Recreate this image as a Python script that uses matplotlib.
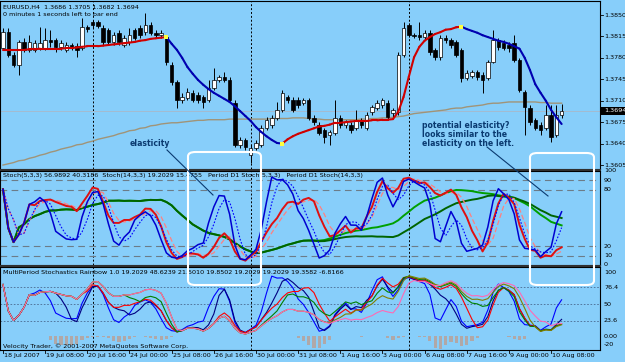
import numpy as np
import pandas as pd
import matplotlib
matplotlib.use('Agg')
import matplotlib.pyplot as plt
from matplotlib.patches import FancyBboxPatch, Rectangle
from matplotlib.lines import Line2D

# ---------------- data ----------------
opens = [1.3796,1.3822,1.3785,1.3768,1.3806,1.3793,1.3793,1.3796,1.3796,1.3809,
         1.3809,1.3798,1.3793,1.3801,1.3799,1.3796,1.3830,1.3839,1.3839,1.3829,
         1.3826,1.3806,1.3821,1.3801,1.3806,1.3826,1.3829,1.3822,1.3834,1.3821,
         1.3817,1.3814,1.3768,1.3741,1.3711,1.3714,1.3723,1.3719,1.3716,1.3711,
         1.3731,1.3744,1.3749,1.3744,1.3706,1.3638,1.3646,1.3621,1.3633,1.3638,
         1.3665,1.3670,1.3682,1.3695,1.3716,1.3711,1.3711,1.3706,1.3711,1.3682,
         1.3670,1.3662,1.3654,1.3657,1.3682,1.3670,1.3670,1.3665,1.3679,1.3665,
         1.3692,1.3698,1.3703,1.3706,1.3690,1.3692,1.3785,1.3834,1.3817,1.3817,
         1.3814,1.3821,1.3793,1.3781,1.3812,1.3809,1.3806,1.3793,1.3747,1.3750,
         1.3757,1.3752,1.3747,1.3773,1.3809,1.3804,1.3801,1.3804,1.3777,1.3724,
         1.3698,1.3679,1.3670,1.3665,1.3687,1.3654,1.3686]
highs = [1.3829,1.3829,1.3790,1.3809,1.3812,1.3817,1.3809,1.3830,1.3829,1.3826,
         1.3812,1.3809,1.3806,1.3804,1.3804,1.3845,1.3834,1.3842,1.3842,1.3834,
         1.3829,1.3822,1.3826,1.3817,1.3829,1.3829,1.3834,1.3853,1.3839,1.3826,
         1.3826,1.3817,1.3773,1.3744,1.3723,1.3731,1.3728,1.3724,1.3719,1.3744,
         1.3763,1.3752,1.3757,1.3749,1.3711,1.3651,1.3649,1.3638,1.3646,1.3670,
         1.3683,1.3687,1.3708,1.3728,1.3719,1.3716,1.3716,1.3714,1.3714,1.3687,
         1.3675,1.3665,1.3662,1.3711,1.3687,1.3679,1.3675,1.3695,1.3682,1.3692,
         1.3703,1.3711,1.3714,1.3711,1.3698,1.3790,1.3839,1.3837,1.3821,1.3839,
         1.3826,1.3826,1.3796,1.3817,1.3817,1.3812,1.3809,1.3796,1.3760,1.3760,
         1.3760,1.3757,1.3777,1.3826,1.3812,1.3809,1.3806,1.3817,1.3780,1.3728,
         1.3703,1.3682,1.3675,1.3703,1.3703,1.3703,1.3705]
lows = [1.3793,1.3781,1.3765,1.3752,1.3790,1.3790,1.3790,1.3793,1.3793,1.3798,
        1.3790,1.3793,1.3790,1.3793,1.3781,1.3793,1.3822,1.3829,1.3829,1.3801,
        1.3801,1.3801,1.3801,1.3798,1.3801,1.3809,1.3812,1.3817,1.3817,1.3812,
        1.3812,1.3768,1.3736,1.3698,1.3706,1.3711,1.3708,1.3706,1.3698,1.3708,
        1.3728,1.3741,1.3741,1.3708,1.3634,1.3633,1.3630,1.3608,1.3630,1.3634,
        1.3662,1.3665,1.3679,1.3692,1.3706,1.3692,1.3698,1.3703,1.3679,1.3670,
        1.3654,1.3641,1.3638,1.3654,1.3665,1.3665,1.3657,1.3662,1.3665,1.3662,
        1.3687,1.3695,1.3698,1.3679,1.3683,1.3687,1.3781,1.3814,1.3812,1.3809,
        1.3809,1.3785,1.3777,1.3777,1.3804,1.3796,1.3781,1.3741,1.3744,1.3747,
        1.3744,1.3723,1.3744,1.3772,1.3793,1.3793,1.3790,1.3773,1.3724,1.3654,
        1.3670,1.3662,1.3654,1.3662,1.3643,1.3651,1.3682]
closes = [1.3822,1.3785,1.3768,1.3806,1.3793,1.3806,1.3804,1.3804,1.3809,1.3806,
          1.3798,1.3804,1.3801,1.3796,1.3793,1.3830,1.3827,1.3834,1.3832,1.3806,
          1.3806,1.3817,1.3806,1.3812,1.3817,1.3812,1.3817,1.3834,1.3821,1.3817,
          1.3821,1.3773,1.3741,1.3711,1.3716,1.3724,1.3711,1.3711,1.3708,1.3731,
          1.3744,1.3749,1.3744,1.3711,1.3638,1.3646,1.3634,1.3633,1.3641,1.3665,
          1.3679,1.3682,1.3695,1.3723,1.3711,1.3695,1.3703,1.3711,1.3682,1.3675,
          1.3657,1.3651,1.3659,1.3682,1.3670,1.3675,1.3662,1.3679,1.3670,1.3687,
          1.3700,1.3706,1.3711,1.3683,1.3695,1.3785,1.3829,1.3817,1.3816,1.3814,
          1.3821,1.3790,1.3781,1.3812,1.3809,1.3801,1.3785,1.3747,1.3755,1.3757,
          1.3749,1.3744,1.3773,1.3809,1.3798,1.3796,1.3796,1.3777,1.3728,1.3700,
          1.3675,1.3665,1.3662,1.3687,1.3651,1.3687,1.3694]

trend_ma = [1.3793,1.3793,1.3793,1.3793,1.3793,1.3794,1.3794,1.3795,1.3795,1.3795,
            1.3795,1.3795,1.3796,1.3796,1.3797,1.3798,1.3799,1.3799,1.3799,1.3800,
            1.3801,1.3802,1.3803,1.3804,1.3805,1.3806,1.3808,1.3809,1.3811,1.3812,
            1.3813,1.3814,1.3803,1.3793,1.3780,1.3765,1.3754,1.3744,1.3736,1.3729,
            1.3723,1.3718,1.3713,1.3708,1.3701,1.3693,1.3685,1.3677,1.3667,1.3659,
            1.3652,1.3646,1.3641,1.3640,1.3647,1.3652,1.3656,1.3659,1.3662,1.3665,
            1.3668,1.3669,1.3671,1.3674,1.3674,1.3675,1.3676,1.3677,1.3677,1.3677,
            1.3678,1.3678,1.3679,1.3679,1.3680,1.3692,1.3716,1.3749,1.3781,1.3798,
            1.3808,1.3814,1.3819,1.3822,1.3826,1.3827,1.3830,1.3831,1.3827,1.3824,
            1.3821,1.3817,1.3814,1.3811,1.3808,1.3806,1.3803,1.3799,1.3795,1.3780,
            1.3760,1.3737,1.3723,1.3710,1.3695,1.3683,1.3672]

sma_long = [1.3605,1.3607,1.3609,1.3612,1.3613,1.3616,1.3618,1.3621,1.3623,1.3626,
            1.3628,1.3631,1.3633,1.3635,1.3638,1.3639,1.3642,1.3644,1.3647,1.3649,
            1.3651,1.3653,1.3656,1.3658,1.3661,1.3662,1.3665,1.3666,1.3669,1.3670,
            1.3672,1.3673,1.3674,1.3674,1.3675,1.3676,1.3677,1.3678,1.3678,1.3679,
            1.3679,1.3679,1.3679,1.3680,1.3680,1.3680,1.3680,1.3680,1.3680,1.3680,
            1.3680,1.3681,1.3681,1.3681,1.3681,1.3682,1.3682,1.3682,1.3681,1.3680,
            1.3680,1.3679,1.3679,1.3679,1.3679,1.3679,1.3679,1.3679,1.3680,1.3680,
            1.3681,1.3681,1.3682,1.3682,1.3683,1.3684,1.3685,1.3687,1.3689,1.3690,
            1.3691,1.3692,1.3693,1.3694,1.3695,1.3697,1.3698,1.3698,1.3700,1.3701,
            1.3702,1.3703,1.3705,1.3706,1.3706,1.3707,1.3708,1.3708,1.3708,1.3708,
            1.3708,1.3708,1.3707,1.3707,1.3706,1.3706,1.3706]

price_ticks = [1.3605, 1.3640, 1.3675, 1.3710, 1.3745, 1.3780, 1.3815, 1.3850]
current_price = 1.3694
time_labels = ["18 Jul 2007", "19 Jul 08:00", "20 Jul 16:00", "24 Jul 00:00",
               "25 Jul 08:00", "26 Jul 16:00", "30 Jul 00:00", "31 Jul 08:00",
               "1 Aug 16:00", "3 Aug 00:00", "6 Aug 08:00", "7 Aug 16:00",
               "9 Aug 00:00", "10 Aug 08:00"]
label_every = 8
week_starts = [17, 47, 77]
stoch_levels = [90, 80, 20, 10]
stoch_ticks = [100, 90, 80, 20, 10, 0]
multi_levels = [76.4, 50, 23.6]
multi_ticks = [(100, "100"), (76.4, "76.4"), (50, "50"), (23.6, "23.6"), (0, "0.00"), (-20, "-20")]
multi_periods = [5, 8, 13, 21, 34, 55]
multi_colors = ['#0000ff', '#000080', '#ff0000', '#008000', '#808000', '#ff69b4']

# ---------------- helpers ----------------
W, H = 625, 362
BG = '#87CEFA'
FONT = 'DejaVu Sans'
FS = 4.6
fig = plt.figure(figsize=(W/100, H/100), dpi=100, facecolor=BG)

n = len(closes)
x = np.arange(n)
BAR = 5.27
XL = (-3/BAR, -3/BAR + 600/BAR)

def fx(px):
    return px / W

def fy(py):
    return 1 - py / H

def add_panel(top, bottom):
    ax = fig.add_axes([0, 1 - bottom/H, 600/W, (bottom-top)/H])
    ax.set_facecolor(BG)
    ax.set_xlim(*XL)
    ax.set_xticks([]); ax.set_yticks([])
    for s in ax.spines.values():
        s.set_color('black'); s.set_linewidth(0.8)
    for w in week_starts:
        ax.axvline(w, color='black', lw=0.7, ls=(0, (2, 2)), zorder=1)
    return ax

o = np.array(opens); h = np.array(highs); l = np.array(lows); c = np.array(closes)

# ---------------- main price panel ----------------
ax = add_panel(1, 169)
ax.set_ylim(1.38745 - 0.0001633*169, 1.38745 - 0.0001633*1)
ax.axhline(current_price, color='#a8b8c8', lw=0.6, zorder=1)
ax.plot(x, sma_long, color='#a09478', lw=1.0, zorder=2)
for i in range(n):
    ax.vlines(i, l[i], h[i], color='black', lw=0.7, zorder=3)
    bull = c[i] >= o[i]
    lo, hi = min(o[i], c[i]), max(o[i], c[i])
    if hi - lo < 0.00006:
        hi = lo + 0.00006
    ax.add_patch(Rectangle((i - 0.33, lo), 0.66, hi - lo,
                           facecolor='white' if bull else 'black',
                           edgecolor='black', lw=0.5, zorder=4))
tm = np.array(trend_ma)
d = np.diff(tm)
prev = 'r'
for i in range(n - 1):
    col = '#d00000' if d[i] > 0 else ('#0000b0' if d[i] < 0 else ('#d00000' if prev == 'r' else '#0000b0'))
    prev = 'r' if col == '#d00000' else 'b'
    ax.plot([i, i+1], tm[i:i+2], color=col, lw=1.5, solid_capstyle='round', zorder=5)
for i in range(1, n - 1):
    if np.sign(d[i-1]) != np.sign(d[i]) and d[i] != 0 and d[i-1] != 0:
        ax.plot(i, tm[i], 's', color='#ffff40', ms=2.2, mew=0, zorder=6)

ax.text(3/600, 1 - 4/168, "EURUSD,H4  1.3686 1.3705 1.3682 1.3694", transform=ax.transAxes,
        fontsize=FS, family=FONT, va='top', ha='left', color='black')
ax.text(3/600, 1 - 11/168, "0 minutes 1 seconds left to bar end", transform=ax.transAxes,
        fontsize=FS, family=FONT, va='top', ha='left', color='black')
ax.text(130/600, 1 - 143/168, "elasticity", transform=ax.transAxes, fontsize=5.6,
        family=FONT, weight='bold', color='#0a3a70', va='center', ha='left')
for k, t in enumerate(["potential elasticity?", "looks similar to the", "elasticity on the left."]):
    ax.text(422/600, 1 - (125 + 8.5*k)/168, t, transform=ax.transAxes, fontsize=5.6,
            family=FONT, weight='bold', color='#0a3a70', va='center', ha='left')

# right price axis
for p in price_ticks:
    yp = (1.38745 - p) / 0.0001633
    fig.text(fx(604), fy(yp), f"{p:.4f}", fontsize=FS, family=FONT, va='center', ha='left')
    fig.add_artist(Line2D([fx(600), fx(603)], [fy(yp), fy(yp)], color='black', lw=0.6))
yp = (1.38745 - current_price) / 0.0001633
fig.add_artist(Rectangle((fx(601), fy(yp + 4)), fx(24), 8/H, facecolor='black', edgecolor='none'))
fig.text(fx(604), fy(yp), f"{current_price:.4f}", fontsize=FS, family=FONT, va='center', ha='left', color='white')

# ---------------- stochastic panel ----------------
def stoch(k, dper, slow, hi_, lo_, cl_):
    hh = pd.Series(hi_).rolling(k, min_periods=1).max()
    ll = pd.Series(lo_).rolling(k, min_periods=1).min()
    num = (pd.Series(cl_) - ll).rolling(slow, min_periods=1).sum()
    den = (hh - ll).rolling(slow, min_periods=1).sum()
    main = 100 * num / den
    sig = main.rolling(dper, min_periods=1).mean()
    return main.values, sig.values

# D1 stochastics expressed on H4 bars (6 bars per day)
d5m, _ = stoch(5 * 6, 18, 18, h, l, c)
d14m, _ = stoch(14 * 6, 18, 18, h, l, c)

s5m, s5s = stoch(5, 3, 3, h, l, c)
s14m, s14s = stoch(14, 3, 3, h, l, c)

ax2 = add_panel(171, 265)
ax2.set_ylim(0, 100)
for lv in stoch_levels:
    ax2.axhline(lv, color='#6c7c88', lw=0.8, ls=(0, (6, 4)), zorder=1)
ax2.plot(x, d5m, color='#00a000', lw=1.4, zorder=2)
ax2.plot(x, d14m, color='#006400', lw=1.4, zorder=2)
ax2.plot(x, s14s, color='#ff8080', lw=0.9, ls=(0, (4, 2)), zorder=3)
ax2.plot(x, s14m, color='#e01010', lw=1.4, zorder=3)
ax2.plot(x, s5s, color='#0000ff', lw=0.8, ls=(0, (1.5, 1.5)), zorder=4)
ax2.plot(x, s5m, color='#0000d0', lw=1.1, zorder=4)
ax2.text(3/600, 1 - 5/94, "Stoch(5,3,3) 56.9892 40.3186  Stoch(14,3,3) 19.2029 15.4755   Period D1 Stoch(5,3,3)   Period D1 Stoch(14,3,3)",
         transform=ax2.transAxes, fontsize=FS, family=FONT, va='center', ha='left')
for t in stoch_ticks:
    yp = 265 - t * 0.94
    fig.text(fx(604), fy(yp), str(t), fontsize=FS, family=FONT, va='center', ha='left')

# ---------------- multi period panel ----------------
ax3 = add_panel(267, 350)
ax3.set_ylim(-(350-336)/0.64, 100 + (272-267)/0.64)
for lv in multi_levels:
    ax3.axhline(lv, color='#4a6a90', lw=0.6, ls=(0, (2, 2)), zorder=1)
for per, col in zip(multi_periods, multi_colors):
    m, _ = stoch(per, 3, 3, h, l, c)
    ax3.plot(x, m, color=col, lw=0.8, zorder=3)
s5_diff = s5m - s14m
ax3.bar(x, np.clip(np.clip(s5_diff, None, 0) * 0.4, -20, 0), width=0.6, color='#b0a8a8', zorder=2)
ax3.text(3/600, 1 - 5/83, "MultiPeriod Stochastics Rainbow 1.0 19.2029 48.6239 21.5010 19.8502 19.2029 19.2029 19.3582 -6.8166",
         transform=ax3.transAxes, fontsize=FS, family=FONT, va='center', ha='left')
ax3.text(3/600, 4/83, "Velocity Trader, \u00a9 2001-2007 MetaQuotes Software Corp.",
         transform=ax3.transAxes, fontsize=FS, family=FONT, va='center', ha='left', zorder=5)
for v, t in multi_ticks:
    yp = 336 - v * 0.64
    yp = min(yp, 345)
    fig.text(fx(604), fy(yp), t, fontsize=FS, family=FONT, va='center', ha='left')

# dark separator bands between the panels
for (t0, b0) in [(169, 171), (265, 267)]:
    fig.add_artist(Rectangle((0, fy(b0)), fx(601), (b0 - t0)/H, facecolor='#303030',
                             edgecolor='none', zorder=10))

# ---------------- time axis ----------------
for k, t in enumerate(time_labels):
    bi = k * label_every
    px = (bi - XL[0]) * BAR
    fig.add_artist(Line2D([fx(px), fx(px)], [fy(350), fy(353)], color='black', lw=0.6))
    fig.text(fx(px + 1), fy(356), t, fontsize=FS, family=FONT, va='center', ha='left')

# ---------------- annotations ----------------
for (l0, t0, r0, b0) in [(188, 152, 261, 285), (530, 153, 594, 285)]:
    fig.add_artist(FancyBboxPatch((fx(l0), fy(b0)), fx(r0 - l0), (b0 - t0)/H,
                                  boxstyle="round,pad=0,rounding_size=0.012",
                                  facecolor='none', edgecolor='white', lw=1.5, zorder=20))
fig.add_artist(Line2D([fx(167), fx(213)], [fy(150), fy(195)], color='#0a3a70', lw=0.8, zorder=21))
fig.add_artist(Line2D([fx(487), fx(548)], [fy(147), fy(196)], color='#0a3a70', lw=0.8, zorder=21))

fig.savefig('out.png', dpi=100, facecolor=BG)
